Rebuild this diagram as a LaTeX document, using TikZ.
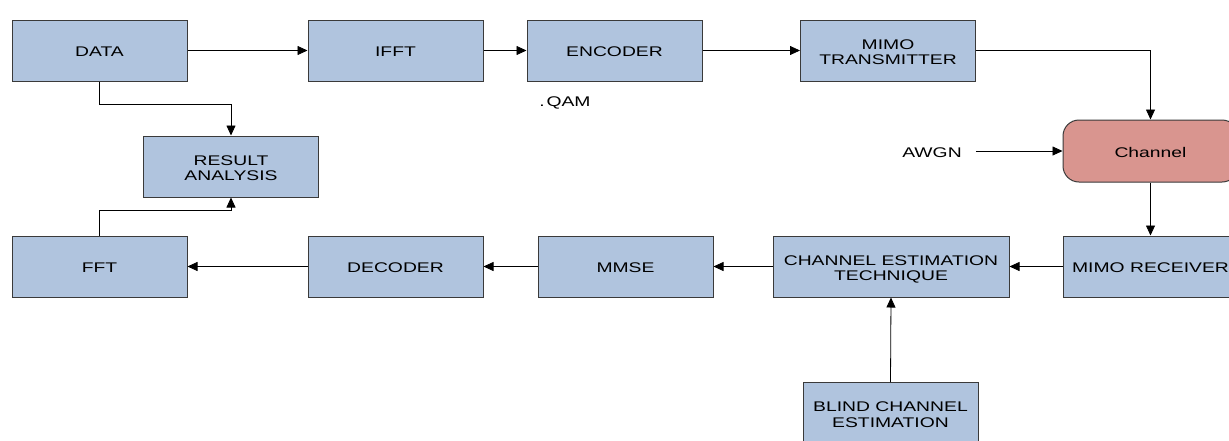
\documentclass[tikz,border=0pt]{standalone}
\usepackage{fontspec}
\setmainfont{Liberation Sans}
\usepackage{graphicx}
\usetikzlibrary{arrows.meta}
\definecolor{boxblue}{HTML}{B0C4DE}
\definecolor{chanred}{HTML}{D9958F}
\definecolor{edgegray}{HTML}{3A3A3A}
\newsavebox\hsbox
\newcommand\hs[1]{\sbox\hsbox{\scalebox{1.38}[1]{\begin{tabular}{@{}c@{}}#1\end{tabular}}}\raisebox{-3pt}[\ht\hsbox][\dp\hsbox]{\usebox\hsbox}}
\begin{document}
\begin{tikzpicture}[x=1pt,y=-1pt,
  font=\fontsize{14}{17}\selectfont,
  blk/.style={draw=edgegray,fill=boxblue,line width=1pt,minimum width=175pt,minimum height=61pt,inner sep=0pt,align=center},
  chan/.style={draw=edgegray,fill=chanred,line width=1pt,rounded corners=16pt,minimum width=175pt,minimum height=62pt,inner sep=0pt},
  lbl/.style={inner sep=0pt},
  conn/.style={draw=black,line width=0.8pt,-{Triangle[length=10pt,width=9pt]}}
]
\useasboundingbox (0,0) rectangle (1229,440);
\clip (0,0) rectangle (1229,440);
\fill[white] (0,0) rectangle (1229,440);

\node[blk] (data) at (99.5,50.5) {\hs{DATA}};
\node[blk] (ifft) at (395.5,50.5) {\hs{IFFT}};
\node[blk] (enc) at (614.5,50.5) {\hs{ENCODER}};
\node[blk] (mtx) at (888,50.5) {\hs{MIMO\\[-1.5pt]TRANSMITTER}};
\node[blk] (res) at (231,166.5) {\hs{RESULT\\[-1.5pt]ANALYSIS}};
\node[chan] (chan) at (1150.5,151) {\hs{Channel}};
\node[blk] (fft) at (99.5,266.5) {\hs{FFT}};
\node[blk] (dec) at (395.5,266.5) {\hs{DECODER}};
\node[blk] (mmse) at (625.5,266.5) {\hs{MMSE}};
\node[blk,minimum width=236pt] (cet) at (891,266.5) {\hs{CHANNEL ESTIMATION\\[-1.5pt]TECHNIQUE}};
\node[blk] (mrx) at (1150.5,266.5) {\hs{MIMO RECEIVER}};
\node[blk] (blind) at (890.5,413) {\hs{BLIND CHANNEL\\[-1.5pt]ESTIMATION}};

\node[lbl] (qam) at (565,100) {\hs{.\kern1.2pt QAM}};
\node[lbl,inner xsep=14pt] (awgn) at (932,151) {\hs{AWGN}};

\draw[conn] (data) -- (ifft);
\draw[conn] (ifft) -- (enc);
\draw[conn] (enc) -- (mtx);
\draw[conn] (mtx.east) -| (chan.north);
\draw[conn] (awgn.east) -- (chan.west);
\draw[conn] (chan.south) -- (mrx.north);
\draw[conn] (mrx) -- (cet);
\draw[conn] (cet) -- (mmse);
\draw[conn] (mmse) -- (dec);
\draw[conn] (dec) -- (fft);
\draw[conn] (blind.north) -- (cet.south);
\draw[conn] (data.south) -- ++(0,23) -| (res.north);
\draw[conn] (fft.north) -- ++(0,-25) -| (res.south);
\end{tikzpicture}
\end{document}
